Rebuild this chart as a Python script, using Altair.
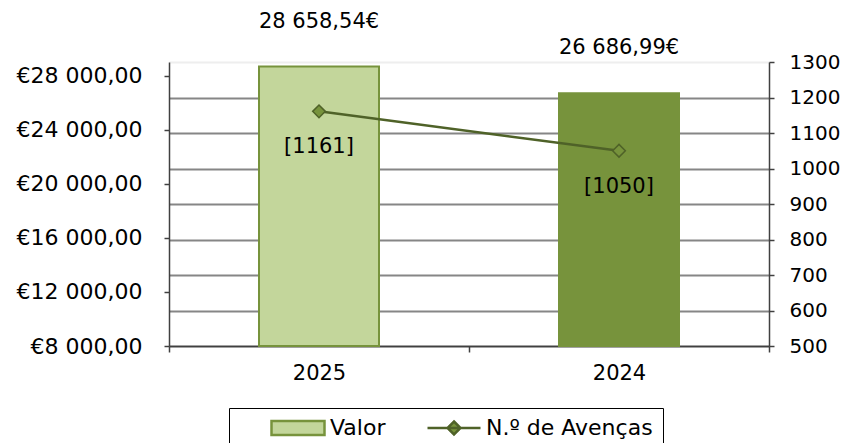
import altair as alt
import pandas as pd

years = ["2025", "2024"]
valor = [28658.54, 26686.99]
valor_labels = ["28 658,54€", "26 686,99€"]
avencas = [1161, 1050]
avencas_labels = ["[1161]", "[1050]"]
series = ["Valor", "N.º de Avenças"]
left_ticks = [8000, 12000, 16000, 20000, 24000, 28000]
right_ticks = [500, 600, 700, 800, 900, 1000, 1100, 1200, 1300]

df = pd.DataFrame({
    "year": years,
    "valor": valor,
    "valor_label": valor_labels,
    "avencas": avencas,
    "avencas_label": avencas_labels,
})
legend_df = pd.DataFrame({"series": series})

FONT = "DejaVu Sans"
LIGHT = "#C3D69B"
MID = "#77933C"
DARK = "#4F6228"
AXIS = "#404040"
GRID = "#868686"

x = alt.X(
    "year:N", sort=years, title=None,
    scale=alt.Scale(paddingInner=0, paddingOuter=0),
    axis=alt.Axis(labelAngle=0, tickBand="extent", tickSize=6, labelPadding=10,
                  domainColor=AXIS, tickColor=AXIS, domainWidth=1.5, tickWidth=1.5,
                  labelFontSize=21, labelFont=FONT, labelColor="black", grid=False),
)

base = alt.Chart(df)

y_left = alt.Y(
    "valor:Q", title=None,
    scale=alt.Scale(domain=[8000, 29000], zero=False, nice=False),
    axis=alt.Axis(orient="left", values=left_ticks, grid=False, tickSize=5, labelPadding=22,
                  domainColor=AXIS, tickColor=AXIS, domainWidth=1.5, tickWidth=1.5,
                  labelFontSize=22, labelFont=FONT, labelColor="black",
                  labelExpr="'€' + replace(replace(format(datum.value, ',.2f'), ',', ' '), '.', ',')"),
)

bars = base.mark_bar(width=alt.RelativeBandSize(0.4), strokeWidth=2).encode(
    x=x,
    y=y_left,
    y2=alt.datum(8000),
    fill=alt.condition("datum.year == '2025'", alt.value(LIGHT), alt.value(MID)),
    stroke=alt.value(MID),
)
bar_text = base.mark_text(dy=-45, fontSize=21, font=FONT, color="black").encode(
    x=x, y=y_left, text="valor_label:N"
)

y_right = alt.Y(
    "avencas:Q", title=None,
    scale=alt.Scale(domain=[500, 1300], zero=False, nice=False),
    axis=alt.Axis(orient="right", values=right_ticks, grid=True, format="d",
                  gridColor={"condition": {"test": "datum.value == 1300", "value": "#EEEEEE"}, "value": GRID},
                  gridWidth=2, tickSize=5, labelPadding=15,
                  domainColor=AXIS, tickColor=AXIS, domainWidth=1.5, tickWidth=1.5,
                  labelFontSize=20, labelFont=FONT, labelColor="black"),
)

line = base.mark_line(color=DARK, strokeWidth=2.5).encode(x=x, y=y_right)
points = base.mark_point(shape="diamond", filled=True, size=160, fill=MID, stroke=DARK,
                         strokeWidth=1.5, opacity=1).encode(x=x, y=y_right)
line_text = base.mark_text(dy=36, fontSize=21, font=FONT, color="black").encode(
    x=x, y=y_right, text="avencas_label:N"
)

leg = alt.Legend(title=None, orient="none", legendX=60, legendY=346, direction="horizontal",
                 symbolSize=2809, symbolStrokeWidth=2.5, clipHeight=20, symbolOffset=31,
                 labelFontSize=22, labelFont=FONT, labelColor="black", labelOffset=4, labelLimit=400,
                 labelExpr="datum.index == 1 ? datum.label + '\u2003' : datum.label",
                 columnPadding=9, padding=10, strokeColor="#000000", cornerRadius=0)
legend_layer = alt.Chart(legend_df).transform_filter("false").mark_point(
    filled=True, opacity=1, strokeWidth=2.5
).encode(
    shape=alt.Shape("series:N", scale=alt.Scale(
        domain=series,
        range=["M-1,-0.264H1V0.264H-1Z", "M-1,0H1M0,-0.245L0.245,0L0,0.245L-0.245,0Z"]), legend=leg),
    fill=alt.Fill("series:N", scale=alt.Scale(domain=series, range=[LIGHT, MID]), legend=leg),
    stroke=alt.Stroke("series:N", scale=alt.Scale(domain=series, range=[MID, DARK]), legend=leg),
)

left = alt.layer(bars, bar_text)
right = alt.layer(line, points, line_text, legend_layer)

chart = alt.layer(left, right).resolve_scale(y="independent").properties(
    width=600, height=284, background="white", padding={"top": 2, "left": 8, "right": 0, "bottom": 5}
).configure_view(stroke=None)

chart.save("out.html", embed_options={"renderer": "svg", "actions": False})
